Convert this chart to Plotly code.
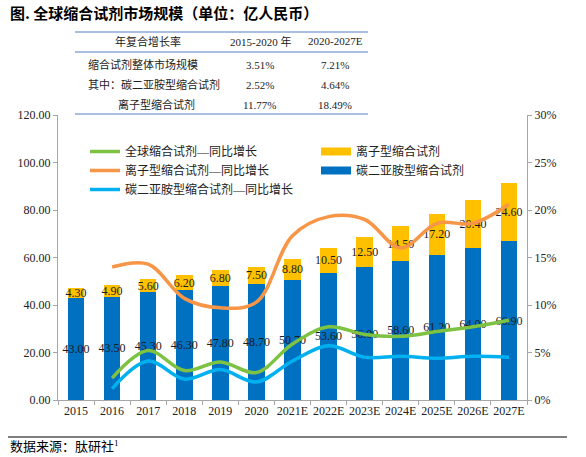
import plotly.graph_objects as go

years = ["2015", "2016", "2017", "2018", "2019", "2020", "2021E", "2022E",
         "2023E", "2024E", "2025E", "2026E", "2027E"]
carbodiimide = [43.00, 43.50, 45.30, 46.30, 47.80, 48.70, 50.70, 53.60,
                56.00, 58.60, 61.20, 64.00, 66.90]
ionic = [4.30, 4.90, 5.60, 6.20, 6.80, 7.50, 8.80, 10.50,
         12.50, 14.50, 17.20, 20.40, 24.60]
growth_years = years[1:]
growth_total = [0.023, 0.052, 0.031, 0.040, 0.029, 0.059, 0.077, 0.069,
                0.067, 0.072, 0.077, 0.084]
growth_ionic = [0.140, 0.143, 0.107, 0.097, 0.103, 0.173, 0.193, 0.190,
                0.160, 0.186, 0.186, 0.206]
growth_carbo = [0.012, 0.041, 0.022, 0.032, 0.019, 0.041, 0.057, 0.045,
                0.046, 0.044, 0.046, 0.045]

table_header = ["年复合增长率", "2015-2020 年", "2020-2027E"]
table_rows = [
    ["缩合试剂整体市场规模", "3.51%", "7.21%"],
    ["其中：碳二亚胺型缩合试剂", "2.52%", "4.64%"],
    ["离子型缩合试剂", "11.77%", "18.49%"],
]

FONT = "Liberation Serif, Times New Roman, Noto Sans CJK SC, serif"
W, H = 586, 457
L, R, T, B = 58, 59, 115, 57

BLUE = "#0070C0"
YELLOW = "#FFC000"

fig = go.Figure()
fig.add_trace(go.Bar(
    x=years, y=carbodiimide, name="碳二亚胺型缩合试剂",
    marker=dict(color=BLUE, line=dict(width=0)), width=0.46,
    text=[f"{v:.2f}" for v in carbodiimide], textposition="inside",
    insidetextanchor="middle", textangle=0, constraintext="none",
    textfont=dict(family=FONT, size=12, color="#1a1a1a"),
    showlegend=False, cliponaxis=False))
fig.add_trace(go.Bar(
    x=years, y=ionic, name="离子型缩合试剂",
    marker=dict(color=YELLOW, line=dict(width=0)), width=0.46,
    text=[f"{v:.2f}" for v in ionic], textposition="inside",
    insidetextanchor="middle", textangle=0, constraintext="none",
    textfont=dict(family=FONT, size=12, color="#1a1a1a"),
    showlegend=False, cliponaxis=False))

fig.add_trace(go.Scatter(
    x=growth_years, y=growth_total, name="全球缩合试剂—同比增长", yaxis="y2",
    mode="lines", line=dict(color="#7DC242", width=3.5, shape="spline", smoothing=1.0)))
fig.add_trace(go.Scatter(
    x=growth_years, y=growth_ionic, name="离子型缩合试剂—同比增长", yaxis="y2",
    mode="lines", line=dict(color="#F79646", width=3.5, shape="spline", smoothing=1.0)))
fig.add_trace(go.Scatter(
    x=growth_years, y=growth_carbo, name="碳二亚胺型缩合试剂—同比增长", yaxis="y2",
    mode="lines", line=dict(color="#00B0F0", width=3.5, shape="spline", smoothing=1.0)))

# legend entries for the bar series (wide rectangle swatches)
fig.add_trace(go.Scatter(x=[None], y=[None], name="离子型缩合试剂", mode="lines",
                         line=dict(color=YELLOW, width=8), legend="legend2"))
fig.add_trace(go.Scatter(x=[None], y=[None], name="碳二亚胺型缩合试剂", mode="lines",
                         line=dict(color=BLUE, width=8), legend="legend2"))

def px_x(p):
    return (p - L) / (W - L - R)

def px_y(p):
    return (H - B - p) / (H - T - B)

annotations = []
shapes = []
annotations.append(dict(text="<b>图. 全球缩合试剂市场规模（单位：亿人民币）</b>",
                        x=px_x(8), y=px_y(12), xref="paper", yref="paper",
                        xanchor="left", yanchor="middle", showarrow=False,
                        font=dict(family="Noto Sans CJK SC", size=15, color="#000")))
tcol_c = [148, 260, 335]
row_y = [41, 65, 85, 105]
for i, h in enumerate(table_header):
    annotations.append(dict(text=h, x=px_x(tcol_c[i]), y=px_y(row_y[0]),
                            xref="paper", yref="paper", xanchor="center", yanchor="middle",
                            showarrow=False, font=dict(family=FONT, size=11, color="#222")))
for r, row in enumerate(table_rows):
    for c, val in enumerate(row):
        if c == 0 and r < 2:
            annotations.append(dict(text=val, x=px_x(86), y=px_y(row_y[r + 1]),
                                    xref="paper", yref="paper", xanchor="left", yanchor="middle",
                                    showarrow=False, font=dict(family=FONT, size=11, color="#222")))
        else:
            cx = 156 if c == 0 else tcol_c[c]
            annotations.append(dict(text=val, x=px_x(cx), y=px_y(row_y[r + 1]),
                                    xref="paper", yref="paper", xanchor="center", yanchor="middle",
                                    showarrow=False, font=dict(family=FONT, size=11, color="#222")))
for yy in [32, 52, 114]:
    shapes.append(dict(type="line", xref="paper", yref="paper",
                       x0=px_x(75), x1=px_x(368), y0=px_y(yy), y1=px_y(yy),
                       line=dict(color="#8EA9DB", width=1.5)))
shapes.append(dict(type="line", xref="paper", yref="paper",
                   x0=px_x(8), x1=px_x(567), y0=px_y(437), y1=px_y(437),
                   line=dict(color="#000", width=1.2)))
annotations.append(dict(text="数据来源：肽研社<sup>1</sup>", x=px_x(8), y=px_y(446),
                        xref="paper", yref="paper", xanchor="left", yanchor="middle",
                        showarrow=False, font=dict(family=FONT, size=13, color="#000")))

axis_common = dict(showgrid=False, zeroline=False, showline=True, linecolor="#A6A6A6",
                   linewidth=1, ticks="outside", ticklen=4, tickcolor="#A6A6A6",
                   tickfont=dict(family=FONT, size=12, color="#222"), automargin=False)

fig.update_layout(
    width=W, height=H, margin=dict(l=L, r=R, t=T, b=B),
    paper_bgcolor="white", plot_bgcolor="white",
    barmode="stack", bargap=0.54,
    font=dict(family=FONT, size=12, color="#222"),
    xaxis=dict(**axis_common, type="category", tickson="boundaries", tickangle=0),
    yaxis=dict(**axis_common, range=[0, 120], tickvals=[0, 20, 40, 60, 80, 100, 120],
               ticktext=["0.00", "20.00", "40.00", "60.00", "80.00", "100.00", "120.00"]),
    yaxis2=dict(**axis_common, overlaying="y", side="right", range=[0, 0.3],
                tickvals=[0, 0.05, 0.1, 0.15, 0.2, 0.25, 0.3],
                ticktext=["0%", "5%", "10%", "15%", "20%", "25%", "30%"]),
    legend=dict(x=px_x(85), y=px_y(137), xanchor="left", yanchor="top",
                bgcolor="rgba(0,0,0,0)", traceorder="normal",
                font=dict(family=FONT, size=12, color="#222"), tracegroupgap=0),
    legend2=dict(x=px_x(316), y=px_y(137), xanchor="left", yanchor="top",
                 bgcolor="rgba(0,0,0,0)", traceorder="normal",
                 font=dict(family=FONT, size=12, color="#222")),
    annotations=annotations, shapes=shapes,
)

fig.write_html("out.html", config={"displayModeBar": False},
               post_script="document.body.style.margin='0px';document.body.style.padding='0px';")
